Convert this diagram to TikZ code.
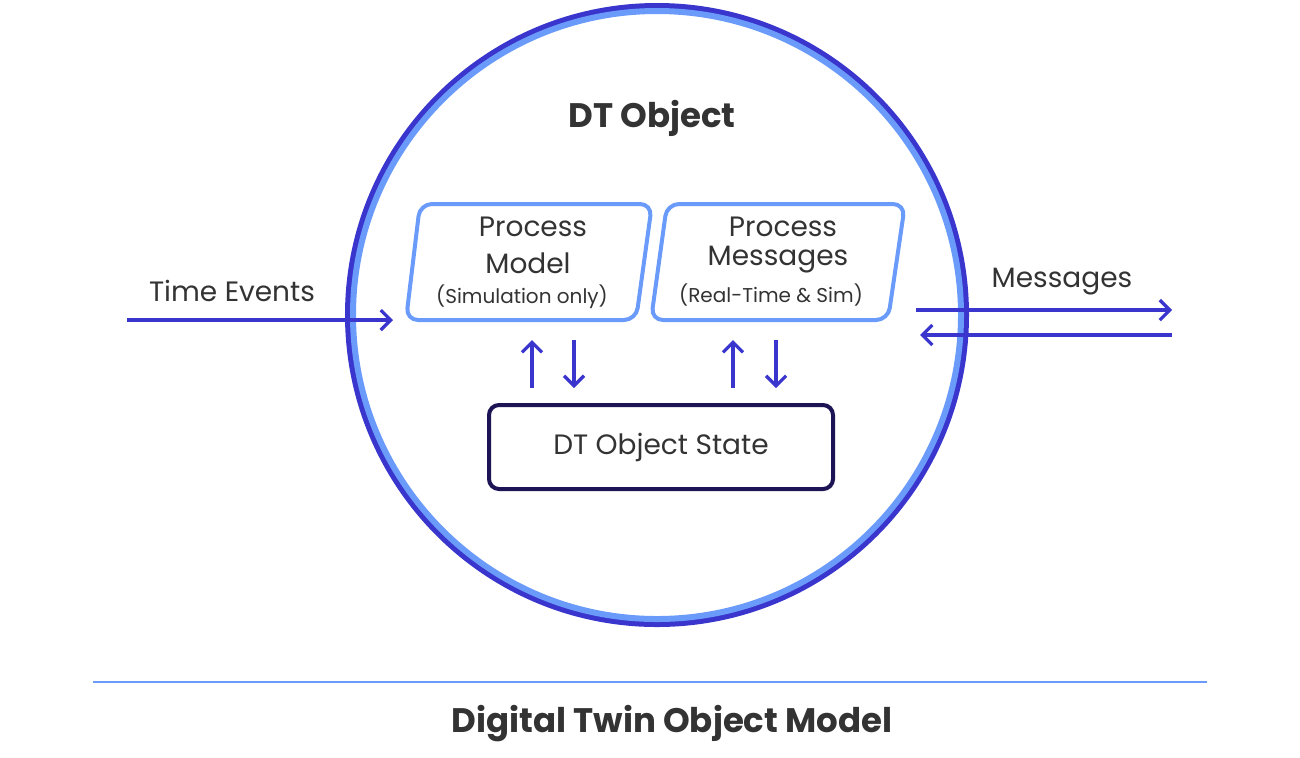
\documentclass[tikz,border=0pt]{standalone}
\usepackage{fontspec}
\setmainfont{Poppins}
\usetikzlibrary{arrows.meta}
\definecolor{dtblue}{HTML}{3A35CC}
\definecolor{dtlight}{HTML}{6A9BFB}
\definecolor{dtnavy}{HTML}{1C1455}
\definecolor{dttext}{HTML}{333333}
\tikzset{
  flow/.style={dtblue,line width=1.6pt,-{Straight Barb[length=5pt,width=10pt]}},
  procbox/.style={draw=dtlight,line width=2pt,rounded corners=6pt},
  lbl/.style={text=dttext,inner sep=0pt}
}
\begin{document}
\begin{tikzpicture}[x=0.5pt,y=-0.5pt]
    \useasboundingbox (0,0) rectangle (1300,757);
    % Objet DT
    \draw[dtblue,line width=3pt] (657,315) circle (309);
    \draw[dtlight,line width=3pt] (657,315) circle (304);
    \node[lbl,font=\fontsize{17}{20}\selectfont\bfseries] (title) at (652,118) {DT Object};
    % Boites de traitement
    \draw[procbox] (420,204) -- (652,204) -- (636,320) -- (406,320) -- cycle;
    \draw[procbox] (667,204) -- (905,204) -- (888,320) -- (651,320) -- cycle;
    \node[lbl,font=\fontsize{14}{16}\selectfont] (pm1) at (533,227) {Process};
    \node[lbl,font=\fontsize{14}{16}\selectfont] (pm2) at (528,263) {Model};
    \node[lbl,font=\fontsize{10}{12}\selectfont] (pm3) at (522,297) {(Simulation only)};
    \node[lbl,font=\fontsize{14}{16}\selectfont] (pg1) at (783,227) {Process};
    \node[lbl,font=\fontsize{14}{16}\selectfont] (pg2) at (778,260) {Messages};
    \node[lbl,font=\fontsize{10}{12}\selectfont] (pg3) at (771,295) {(Real-Time \& Sim)};
    % Etat
    \node[draw=dtnavy,line width=2pt,rounded corners=5pt,minimum width=172pt,minimum height=42pt,
          text=dttext,font=\fontsize{14}{16}\selectfont] (state) at (661,447) {DT Object State};
    % Fleches internes
    \foreach \x/\d in {532/u,574/d,733/u,776/d}{
      \coordinate (\d\x a) at (\x,388);
      \coordinate (\d\x b) at (\x,340);
    }
    \draw[flow] (u532a) -- (u532b);
    \draw[flow] (d574b) -- (d574a);
    \draw[flow] (u733a) -- (u733b);
    \draw[flow] (d776b) -- (d776a);
    % Entrees et sorties
    \coordinate (tin) at (127,320);
    \coordinate (tout) at (393,320);
    \draw[flow] (tin) -- (tout);
    \node[lbl,font=\fontsize{14}{16}\selectfont] (tev) at (232,291) {Time Events};
    \coordinate (mo1) at (916,310);
    \coordinate (mo2) at (1172,310);
    \coordinate (mi1) at (1172,335);
    \coordinate (mi2) at (920,335);
    \draw[flow] (mo1) -- (mo2);
    \draw[flow] (mi1) -- (mi2);
    \node[lbl,font=\fontsize{14}{16}\selectfont] (msg) at (1062,282) {Messages};
    % Legende
    \coordinate (ll) at (93,682);
    \coordinate (lr) at (1207,682);
    \draw[dtlight,line width=1.2pt] (ll) -- (lr);
    \node[lbl,font=\fontsize{17}{20}\selectfont\bfseries] (caption) at (672,724) {Digital Twin Object Model};
\end{tikzpicture}
\end{document}
